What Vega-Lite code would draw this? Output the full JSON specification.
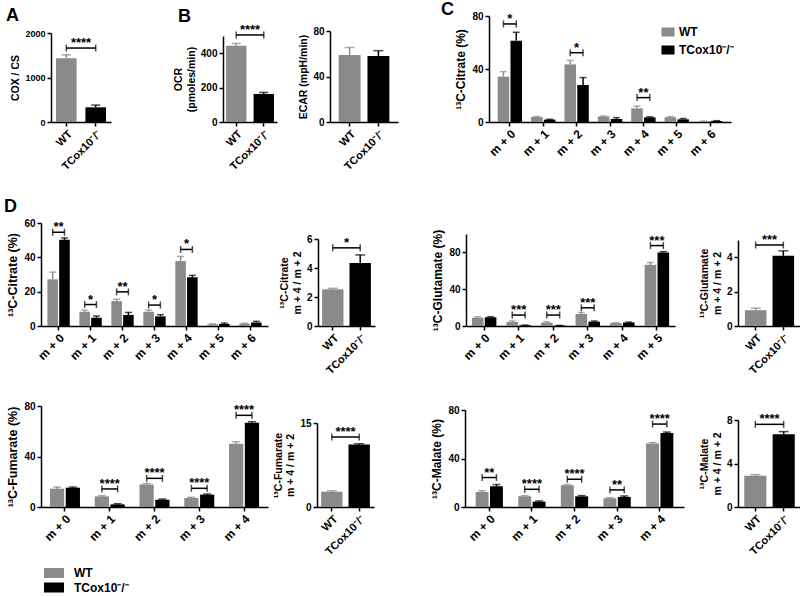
{
"$schema": "https://vega.github.io/schema/vega-lite/v6.json",
"padding": {"left": 4, "top": 0, "right": 0, "bottom": 0},
"spacing": 25,
"resolve": {"scale": {"color": "independent", "xOffset": "independent"}},
"config": {
  "view": {"stroke": null},
  "font": "Liberation Sans",
  "axis": {"domainColor": "#000", "domainWidth": 1.5, "tickColor": "#000", "tickWidth": 1.5, "tickSize": 4, "labelFont": "Liberation Sans", "labelFontWeight": "bold", "labelColor": "#000", "labelFontSize": 10, "titleFont": "Liberation Sans", "titleFontWeight": "bold", "titleColor": "#000", "titleFontSize": 10.5, "grid": false, "labelPadding": 2},
  "axisX": {"labelAngle": -45, "labelFontSize": 11},
  "title": {"font": "Liberation Sans", "fontSize": 18, "fontWeight": "bold", "color": "#000", "anchor": "start", "frame": "group", "offset": 0, "baseline": "alphabetic"},
  "text": {"font": "Liberation Sans"}
},
"datasets": {
  "a": [{"g": "WT", "v": 1435, "hi": 1510}, {"g": "TCox10⁻/⁻", "v": 330, "hi": 380}],
  "ab": [{"a": "WT", "b": "TCox10⁻/⁻", "y": 1662, "s": "****"}],
  "b1": [{"g": "WT", "v": 444, "hi": 457}, {"g": "TCox10⁻/⁻", "v": 163, "hi": 172}],
  "b1b": [{"a": "WT", "b": "TCox10⁻/⁻", "y": 506, "s": "****"}],
  "b2": [{"g": "WT", "v": 58.9, "hi": 65.6}, {"g": "TCox10⁻/⁻", "v": 58, "hi": 62.7}],
  "c": [
    {"m": "m + 0", "g": "WT", "v": 34.2, "hi": 38}, {"m": "m + 0", "g": "TCox10⁻/⁻", "v": 61.4, "hi": 67.7},
    {"m": "m + 1", "g": "WT", "v": 3.8, "hi": 4.2}, {"m": "m + 1", "g": "TCox10⁻/⁻", "v": 1.8, "hi": 2.0},
    {"m": "m + 2", "g": "WT", "v": 43.5, "hi": 46.5}, {"m": "m + 2", "g": "TCox10⁻/⁻", "v": 27.9, "hi": 33.5},
    {"m": "m + 3", "g": "WT", "v": 4.2, "hi": 4.5}, {"m": "m + 3", "g": "TCox10⁻/⁻", "v": 2.3, "hi": 3.3},
    {"m": "m + 4", "g": "WT", "v": 10.3, "hi": 12}, {"m": "m + 4", "g": "TCox10⁻/⁻", "v": 3.5, "hi": 3.9},
    {"m": "m + 5", "g": "WT", "v": 3.6, "hi": 4.0}, {"m": "m + 5", "g": "TCox10⁻/⁻", "v": 2.0, "hi": 2.6},
    {"m": "m + 6", "g": "WT", "v": 0.5, "hi": 0.7}, {"m": "m + 6", "g": "TCox10⁻/⁻", "v": 0.8, "hi": 1.0}
  ],
  "cb": [{"m": "m + 0", "y": 74, "s": "*"}, {"m": "m + 2", "y": 52.3, "s": "*"}, {"m": "m + 4", "y": 18.4, "s": "**"}],
  "d1": [
    {"m": "m + 0", "g": "WT", "v": 27.2, "hi": 31.4}, {"m": "m + 0", "g": "TCox10⁻/⁻", "v": 50.2, "hi": 51.3},
    {"m": "m + 1", "g": "WT", "v": 8.3, "hi": 9.3}, {"m": "m + 1", "g": "TCox10⁻/⁻", "v": 4.8, "hi": 5.8},
    {"m": "m + 2", "g": "WT", "v": 14.5, "hi": 15.6}, {"m": "m + 2", "g": "TCox10⁻/⁻", "v": 6.4, "hi": 7.9},
    {"m": "m + 3", "g": "WT", "v": 8.3, "hi": 9.3}, {"m": "m + 3", "g": "TCox10⁻/⁻", "v": 5.6, "hi": 6.6},
    {"m": "m + 4", "g": "WT", "v": 37.8, "hi": 40.5}, {"m": "m + 4", "g": "TCox10⁻/⁻", "v": 28.4, "hi": 29.5},
    {"m": "m + 5", "g": "WT", "v": 1.0, "hi": 1.3}, {"m": "m + 5", "g": "TCox10⁻/⁻", "v": 1.2, "hi": 1.7},
    {"m": "m + 6", "g": "WT", "v": 1.3, "hi": 1.6}, {"m": "m + 6", "g": "TCox10⁻/⁻", "v": 2.0, "hi": 2.7}
  ],
  "d1b": [{"m": "m + 0", "y": 54.6, "s": "**"}, {"m": "m + 1", "y": 12.5, "s": "*"}, {"m": "m + 2", "y": 19.9, "s": "**"}, {"m": "m + 3", "y": 12.2, "s": "*"}, {"m": "m + 4", "y": 44.6, "s": "*"}],
  "d1s": [{"g": "WT", "v": 2.53, "hi": 2.6}, {"g": "TCox10⁻/⁻", "v": 4.34, "hi": 4.9}],
  "d1sb": [{"a": "WT", "b": "TCox10⁻/⁻", "y": 5.39, "s": "*"}],
  "d2": [
    {"m": "m + 0", "g": "WT", "v": 9.0, "hi": 10}, {"m": "m + 0", "g": "TCox10⁻/⁻", "v": 9.5, "hi": 10},
    {"m": "m + 1", "g": "WT", "v": 4.3, "hi": 5.4}, {"m": "m + 1", "g": "TCox10⁻/⁻", "v": 0.8, "hi": 1.0},
    {"m": "m + 2", "g": "WT", "v": 3.6, "hi": 4.7}, {"m": "m + 2", "g": "TCox10⁻/⁻", "v": 0.5, "hi": 0.7},
    {"m": "m + 3", "g": "WT", "v": 13, "hi": 14.7}, {"m": "m + 3", "g": "TCox10⁻/⁻", "v": 4.7, "hi": 5.4},
    {"m": "m + 4", "g": "WT", "v": 3.2, "hi": 3.6}, {"m": "m + 4", "g": "TCox10⁻/⁻", "v": 3.8, "hi": 4.3},
    {"m": "m + 5", "g": "WT", "v": 66.5, "hi": 69}, {"m": "m + 5", "g": "TCox10⁻/⁻", "v": 79.9, "hi": 80.9}
  ],
  "d2b": [{"m": "m + 1", "y": 11.9, "s": "***"}, {"m": "m + 2", "y": 11.9, "s": "***"}, {"m": "m + 3", "y": 19.8, "s": "***"}, {"m": "m + 5", "y": 87.4, "s": "***"}],
  "d2s": [{"g": "WT", "v": 0.92, "hi": 1.04}, {"g": "TCox10⁻/⁻", "v": 4.08, "hi": 4.37}],
  "d2sb": [{"a": "WT", "b": "TCox10⁻/⁻", "y": 4.71, "s": "***"}],
  "d3": [
    {"m": "m + 0", "g": "WT", "v": 14.5, "hi": 15.8}, {"m": "m + 0", "g": "TCox10⁻/⁻", "v": 15.3, "hi": 15.8},
    {"m": "m + 1", "g": "WT", "v": 8.4, "hi": 9}, {"m": "m + 1", "g": "TCox10⁻/⁻", "v": 2.1, "hi": 2.6},
    {"m": "m + 2", "g": "WT", "v": 17.9, "hi": 18.7}, {"m": "m + 2", "g": "TCox10⁻/⁻", "v": 5.8, "hi": 6.3},
    {"m": "m + 3", "g": "WT", "v": 7.1, "hi": 7.7}, {"m": "m + 3", "g": "TCox10⁻/⁻", "v": 9.8, "hi": 10.3},
    {"m": "m + 4", "g": "WT", "v": 50.1, "hi": 51.7}, {"m": "m + 4", "g": "TCox10⁻/⁻", "v": 66.8, "hi": 67.6}
  ],
  "d3b": [{"m": "m + 1", "y": 14.3, "s": "****"}, {"m": "m + 2", "y": 22.7, "s": "****"}, {"m": "m + 3", "y": 14.8, "s": "****"}, {"m": "m + 4", "y": 72.6, "s": "****"}],
  "d3s": [{"g": "WT", "v": 2.73, "hi": 2.9}, {"g": "TCox10⁻/⁻", "v": 11.14, "hi": 11.3}],
  "d3sb": [{"a": "WT", "b": "TCox10⁻/⁻", "y": 12.5, "s": "****"}],
  "d4": [
    {"m": "m + 0", "g": "WT", "v": 12.4, "hi": 13.5}, {"m": "m + 0", "g": "TCox10⁻/⁻", "v": 17.1, "hi": 18.5},
    {"m": "m + 1", "g": "WT", "v": 8.8, "hi": 9.4}, {"m": "m + 1", "g": "TCox10⁻/⁻", "v": 4.4, "hi": 5},
    {"m": "m + 2", "g": "WT", "v": 17.9, "hi": 18.5}, {"m": "m + 2", "g": "TCox10⁻/⁻", "v": 8.8, "hi": 9.4},
    {"m": "m + 3", "g": "WT", "v": 7.2, "hi": 7.7}, {"m": "m + 3", "g": "TCox10⁻/⁻", "v": 8.3, "hi": 9.1},
    {"m": "m + 4", "g": "WT", "v": 52.4, "hi": 53.2}, {"m": "m + 4", "g": "TCox10⁻/⁻", "v": 61, "hi": 61.8}
  ],
  "d4b": [{"m": "m + 0", "y": 24.3, "s": "**"}, {"m": "m + 1", "y": 14.6, "s": "****"}, {"m": "m + 2", "y": 22.9, "s": "****"}, {"m": "m + 3", "y": 14.1, "s": "**"}, {"m": "m + 4", "y": 68.4, "s": "****"}],
  "d4s": [{"g": "WT", "v": 2.88, "hi": 2.98}, {"g": "TCox10⁻/⁻", "v": 6.69, "hi": 6.93}],
  "d4sb": [{"a": "WT", "b": "TCox10⁻/⁻", "y": 7.6, "s": "****"}],
  "none": []
},
"vconcat": [
 {"hconcat": [
  {"width": 10, "height": 106, "data": {"name": "none"}, "mark": "point"},
  {"width": 60, "height": 106, "title": {"text": "A", "dx": -45, "dy": 12.5},
   "layer": [
    {"data": {"name": "a"}, "mark": "bar", "encoding": {
      "x": {"field": "g", "type": "nominal", "scale": {"domain": ["WT", "TCox10⁻/⁻"], "paddingInner": 0.3, "paddingOuter": 0.17}, "axis": {"title": null}},
      "y": {"field": "v", "type": "quantitative", "scale": {"domain": [0, 2000], "range": [106, 17], "nice": false}, "axis": {"title": "COX / CS", "values": [0, 500, 1000, 1500, 2000], "format": "d", "labelFontSize": 9}},
      "color": {"field": "g", "type": "nominal", "scale": {"domain": ["WT", "TCox10⁻/⁻"], "range": ["#8a8a8a", "#000000"]}, "legend": null}}},
    {"data": {"name": "a"}, "mark": {"type": "rule", "strokeWidth": 1.5}, "encoding": {"x": {"field": "g", "type": "nominal"}, "y": {"field": "v", "type": "quantitative"}, "y2": {"field": "hi"}, "color": {"field": "g", "type": "nominal", "legend": null}}},
    {"data": {"name": "a"}, "mark": {"type": "tick", "thickness": 1.5, "size": 9}, "encoding": {"x": {"field": "g", "type": "nominal"}, "y": {"field": "hi", "type": "quantitative"}, "color": {"field": "g", "type": "nominal", "legend": null}}},
    {"data": {"name": "ab"}, "mark": {"type": "rule", "strokeWidth": 1.5, "color": "#000"}, "encoding": {"x": {"field": "a", "type": "nominal", "bandPosition": 0.5}, "x2": {"field": "b", "bandPosition": 0.5}, "y": {"field": "y", "type": "quantitative"}}},
    {"data": {"name": "ab"}, "mark": {"type": "tick", "orient": "vertical", "thickness": 1.5, "size": 7, "color": "#000"}, "encoding": {"x": {"field": "a", "type": "nominal"}, "y": {"field": "y", "type": "quantitative"}}},
    {"data": {"name": "ab"}, "mark": {"type": "tick", "orient": "vertical", "thickness": 1.5, "size": 7, "color": "#000"}, "encoding": {"x": {"field": "b", "type": "nominal"}, "y": {"field": "y", "type": "quantitative"}}},
    {"data": {"name": "ab"}, "mark": {"type": "text", "fontSize": 13, "fontWeight": "bold", "baseline": "alphabetic", "dy": -1, "color": "#000"}, "encoding": {"y": {"field": "y", "type": "quantitative"}, "text": {"field": "s"}}}
   ]},
  {"width": 112, "height": 106, "data": {"name": "none"}, "mark": "point"},
  {"width": 54, "height": 106, "title": {"text": "B", "dx": -45, "dy": 13.5},
   "layer": [
    {"data": {"name": "b1"}, "mark": "bar", "encoding": {
      "x": {"field": "g", "type": "nominal", "scale": {"domain": ["WT", "TCox10⁻/⁻"], "paddingInner": 0.26, "paddingOuter": 0.11}, "axis": {"title": null}},
      "y": {"field": "v", "type": "quantitative", "scale": {"domain": [0, 500], "range": [106, 20], "nice": false}, "axis": {"title": ["OCR", "(pmoles/min)"], "values": [0, 100, 200, 300, 400, 500], "format": "d"}},
      "color": {"field": "g", "type": "nominal", "scale": {"domain": ["WT", "TCox10⁻/⁻"], "range": ["#8a8a8a", "#000000"]}, "legend": null}}},
    {"data": {"name": "b1"}, "mark": {"type": "rule", "strokeWidth": 1.5}, "encoding": {"x": {"field": "g", "type": "nominal"}, "y": {"field": "v", "type": "quantitative"}, "y2": {"field": "hi"}, "color": {"field": "g", "type": "nominal", "legend": null}}},
    {"data": {"name": "b1"}, "mark": {"type": "tick", "thickness": 1.5, "size": 9}, "encoding": {"x": {"field": "g", "type": "nominal"}, "y": {"field": "hi", "type": "quantitative"}, "color": {"field": "g", "type": "nominal", "legend": null}}},
    {"data": {"name": "b1b"}, "mark": {"type": "rule", "strokeWidth": 1.5, "color": "#000"}, "encoding": {"x": {"field": "a", "type": "nominal", "bandPosition": 0.5}, "x2": {"field": "b", "bandPosition": 0.5}, "y": {"field": "y", "type": "quantitative"}}},
    {"data": {"name": "b1b"}, "mark": {"type": "tick", "orient": "vertical", "thickness": 1.5, "size": 7, "color": "#000"}, "encoding": {"x": {"field": "a", "type": "nominal"}, "y": {"field": "y", "type": "quantitative"}}},
    {"data": {"name": "b1b"}, "mark": {"type": "tick", "orient": "vertical", "thickness": 1.5, "size": 7, "color": "#000"}, "encoding": {"x": {"field": "b", "type": "nominal"}, "y": {"field": "y", "type": "quantitative"}}},
    {"data": {"name": "b1b"}, "mark": {"type": "text", "fontSize": 13, "fontWeight": "bold", "baseline": "alphabetic", "dy": -1, "color": "#000"}, "encoding": {"y": {"field": "y", "type": "quantitative"}, "text": {"field": "s"}}}
   ]},
  {"width": 53, "height": 106, "data": {"name": "none"}, "mark": "point"},
  {"width": 68, "height": 106,
   "layer": [
    {"data": {"name": "b2"}, "mark": "bar", "encoding": {
      "x": {"field": "g", "type": "nominal", "scale": {"domain": ["WT", "TCox10⁻/⁻"], "paddingInner": 0.24, "paddingOuter": 0.3}, "axis": {"title": null}},
      "y": {"field": "v", "type": "quantitative", "scale": {"domain": [0, 80], "range": [106, 15], "nice": false}, "axis": {"title": "ECAR (mpH/min)", "values": [0, 20, 40, 60, 80], "format": "d"}},
      "color": {"field": "g", "type": "nominal", "scale": {"domain": ["WT", "TCox10⁻/⁻"], "range": ["#8a8a8a", "#000000"]}, "legend": null}}},
    {"data": {"name": "b2"}, "mark": {"type": "rule", "strokeWidth": 1.5}, "encoding": {"x": {"field": "g", "type": "nominal"}, "y": {"field": "v", "type": "quantitative"}, "y2": {"field": "hi"}, "color": {"field": "g", "type": "nominal", "legend": null}}},
    {"data": {"name": "b2"}, "mark": {"type": "tick", "thickness": 1.5, "size": 10}, "encoding": {"x": {"field": "g", "type": "nominal"}, "y": {"field": "hi", "type": "quantitative"}, "color": {"field": "g", "type": "nominal", "legend": null}}}
   ]},
  {"width": 91, "height": 106, "data": {"name": "none"}, "mark": "point"},
  {"width": 242, "height": 106, "title": {"text": "C", "dx": -48, "dy": 11.5},
   "layer": [
    {"data": {"name": "c"}, "mark": "bar", "encoding": {
      "x": {"field": "m", "type": "nominal", "scale": {"domain": ["m + 0", "m + 1", "m + 2", "m + 3", "m + 4", "m + 5", "m + 6"], "paddingInner": 0.27, "paddingOuter": 0.26}, "axis": {"title": null, "labelFontSize": 12}},
      "xOffset": {"field": "g", "type": "nominal", "scale": {"domain": ["WT", "TCox10⁻/⁻"], "paddingInner": 0.1}},
      "y": {"field": "v", "type": "quantitative", "scale": {"domain": [0, 80], "range": [106, 0], "nice": false}, "axis": {"title": "¹³C-Citrate (%)", "values": [0, 20, 40, 60, 80], "format": "d", "titleFontSize": 12}},
      "color": {"field": "g", "type": "nominal", "scale": {"domain": ["WT", "TCox10⁻/⁻"], "range": ["#8a8a8a", "#000000"]},
        "legend": {"orient": "none", "legendX": 173, "legendY": 10, "title": null, "symbolType": "M-1.45,-1H1.45V1H-1.45Z", "symbolSize": 81, "symbolStrokeWidth": 0, "symbolOpacity": 1, "labelFont": "Liberation Sans", "labelFontSize": 12, "labelFontWeight": "bold", "labelColor": "#000", "labelOffset": 5, "rowPadding": 6,
          "encode": {"symbols": {"update": {"opacity": {"value": 1}, "fillOpacity": {"value": 1}}}}}}}},
    {"data": {"name": "c"}, "mark": {"type": "rule", "strokeWidth": 1.5}, "encoding": {"x": {"field": "m", "type": "nominal"}, "xOffset": {"field": "g", "type": "nominal"}, "y": {"field": "v", "type": "quantitative"}, "y2": {"field": "hi"}, "color": {"field": "g", "type": "nominal"}}},
    {"data": {"name": "c"}, "mark": {"type": "tick", "thickness": 1.5, "size": 7}, "encoding": {"x": {"field": "m", "type": "nominal"}, "xOffset": {"field": "g", "type": "nominal"}, "y": {"field": "hi", "type": "quantitative"}, "color": {"field": "g", "type": "nominal"}}},
    {"data": {"name": "cb"}, "mark": {"type": "rule", "strokeWidth": 1.5, "color": "#000"}, "encoding": {"x": {"field": "m", "type": "nominal", "bandPosition": 0.237}, "x2": {"field": "m", "bandPosition": 0.763}, "y": {"field": "y", "type": "quantitative"}}},
    {"data": {"name": "cb"}, "mark": {"type": "tick", "orient": "vertical", "thickness": 1.5, "size": 7, "color": "#000"}, "encoding": {"x": {"field": "m", "type": "nominal", "bandPosition": 0.237}, "y": {"field": "y", "type": "quantitative"}}},
    {"data": {"name": "cb"}, "mark": {"type": "tick", "orient": "vertical", "thickness": 1.5, "size": 7, "color": "#000"}, "encoding": {"x": {"field": "m", "type": "nominal", "bandPosition": 0.763}, "y": {"field": "y", "type": "quantitative"}}},
    {"data": {"name": "cb"}, "mark": {"type": "text", "fontSize": 13, "fontWeight": "bold", "baseline": "alphabetic", "dy": -1, "color": "#000"}, "encoding": {"x": {"field": "m", "type": "nominal"}, "y": {"field": "y", "type": "quantitative"}, "text": {"field": "s"}}}
   ]}
 ], "spacing": 0, "bounds": "flush", "resolve": {"scale": {"color": "independent", "xOffset": "independent"}}},
 {"vconcat": [
  {"hconcat": [
  {"width": 227, "height": 121, "title": {"text": "D", "dx": -37, "dy": 14.5},
   "layer": [
    {"data": {"name": "d1"}, "mark": "bar", "encoding": {
      "x": {"field": "m", "type": "nominal", "scale": {"domain": ["m + 0", "m + 1", "m + 2", "m + 3", "m + 4", "m + 5", "m + 6"], "paddingInner": 0.3, "paddingOuter": 0.2}, "axis": {"title": null, "labelFontSize": 12}},
      "xOffset": {"field": "g", "type": "nominal", "scale": {"domain": ["WT", "TCox10⁻/⁻"], "paddingInner": 0.1}},
      "y": {"field": "v", "type": "quantitative", "scale": {"domain": [0, 60], "range": [121, 18], "nice": false}, "axis": {"title": "¹³C-Citrate (%)", "values": [0, 20, 40, 60], "format": "d", "titleFontSize": 12.5}},
      "color": {"field": "g", "type": "nominal", "scale": {"domain": ["WT", "TCox10⁻/⁻"], "range": ["#8a8a8a", "#000000"]}, "legend": null}}},
    {"data": {"name": "d1"}, "mark": {"type": "rule", "strokeWidth": 1.5}, "encoding": {"x": {"field": "m", "type": "nominal"}, "xOffset": {"field": "g", "type": "nominal"}, "y": {"field": "v", "type": "quantitative"}, "y2": {"field": "hi"}, "color": {"field": "g", "type": "nominal"}}},
    {"data": {"name": "d1"}, "mark": {"type": "tick", "thickness": 1.5, "size": 7}, "encoding": {"x": {"field": "m", "type": "nominal"}, "xOffset": {"field": "g", "type": "nominal"}, "y": {"field": "hi", "type": "quantitative"}, "color": {"field": "g", "type": "nominal"}}},
    {"data": {"name": "d1b"}, "mark": {"type": "rule", "strokeWidth": 1.5, "color": "#000"}, "encoding": {"x": {"field": "m", "type": "nominal", "bandPosition": 0.237}, "x2": {"field": "m", "bandPosition": 0.763}, "y": {"field": "y", "type": "quantitative"}}},
    {"data": {"name": "d1b"}, "mark": {"type": "tick", "orient": "vertical", "thickness": 1.5, "size": 7, "color": "#000"}, "encoding": {"x": {"field": "m", "type": "nominal", "bandPosition": 0.237}, "y": {"field": "y", "type": "quantitative"}}},
    {"data": {"name": "d1b"}, "mark": {"type": "tick", "orient": "vertical", "thickness": 1.5, "size": 7, "color": "#000"}, "encoding": {"x": {"field": "m", "type": "nominal", "bandPosition": 0.763}, "y": {"field": "y", "type": "quantitative"}}},
    {"data": {"name": "d1b"}, "mark": {"type": "text", "fontSize": 13, "fontWeight": "bold", "baseline": "alphabetic", "dy": -1, "color": "#000"}, "encoding": {"x": {"field": "m", "type": "nominal"}, "y": {"field": "y", "type": "quantitative"}, "text": {"field": "s"}}}
   ]},
  {"width": 50, "height": 121, "data": {"name": "none"}, "mark": "point"},
  {"width": 57, "height": 121,
   "layer": [
    {"data": {"name": "d1s"}, "mark": "bar", "encoding": {
      "x": {"field": "g", "type": "nominal", "scale": {"domain": ["WT", "TCox10⁻/⁻"], "paddingInner": 0.22, "paddingOuter": 0.15}, "axis": {"title": null}},
      "y": {"field": "v", "type": "quantitative", "scale": {"domain": [0, 6], "range": [121, 34], "nice": false}, "axis": {"title": ["¹³C-Citrate", "m + 4 / m + 2"], "values": [0, 2, 4, 6], "format": "d"}},
      "color": {"field": "g", "type": "nominal", "scale": {"domain": ["WT", "TCox10⁻/⁻"], "range": ["#8a8a8a", "#000000"]}, "legend": null}}},
    {"data": {"name": "d1s"}, "mark": {"type": "rule", "strokeWidth": 1.5}, "encoding": {"x": {"field": "g", "type": "nominal"}, "y": {"field": "v", "type": "quantitative"}, "y2": {"field": "hi"}, "color": {"field": "g", "type": "nominal"}}},
    {"data": {"name": "d1s"}, "mark": {"type": "tick", "thickness": 1.5, "size": 10}, "encoding": {"x": {"field": "g", "type": "nominal"}, "y": {"field": "hi", "type": "quantitative"}, "color": {"field": "g", "type": "nominal"}}},
    {"data": {"name": "d1sb"}, "mark": {"type": "rule", "strokeWidth": 1.5, "color": "#000"}, "encoding": {"x": {"field": "a", "type": "nominal", "bandPosition": 0.5}, "x2": {"field": "b", "bandPosition": 0.5}, "y": {"field": "y", "type": "quantitative"}}},
    {"data": {"name": "d1sb"}, "mark": {"type": "tick", "orient": "vertical", "thickness": 1.5, "size": 7, "color": "#000"}, "encoding": {"x": {"field": "a", "type": "nominal"}, "y": {"field": "y", "type": "quantitative"}}},
    {"data": {"name": "d1sb"}, "mark": {"type": "tick", "orient": "vertical", "thickness": 1.5, "size": 7, "color": "#000"}, "encoding": {"x": {"field": "b", "type": "nominal"}, "y": {"field": "y", "type": "quantitative"}}},
    {"data": {"name": "d1sb"}, "mark": {"type": "text", "fontSize": 13, "fontWeight": "bold", "baseline": "alphabetic", "dy": -1, "color": "#000"}, "encoding": {"y": {"field": "y", "type": "quantitative"}, "text": {"field": "s"}}}
   ]},
  {"width": 91, "height": 121, "data": {"name": "none"}, "mark": "point"},
  {"width": 209, "height": 121,
   "layer": [
    {"data": {"name": "d2"}, "mark": "bar", "encoding": {
      "x": {"field": "m", "type": "nominal", "scale": {"domain": ["m + 0", "m + 1", "m + 2", "m + 3", "m + 4", "m + 5"], "paddingInner": 0.29, "paddingOuter": 0.17}, "axis": {"title": null, "labelFontSize": 12}},
      "xOffset": {"field": "g", "type": "nominal", "scale": {"domain": ["WT", "TCox10⁻/⁻"], "paddingInner": 0.1}},
      "y": {"field": "v", "type": "quantitative", "scale": {"domain": [0, 100], "range": [121, 29], "nice": false}, "axis": {"title": "¹³C-Glutamate (%)", "values": [0, 20, 40, 60, 80, 100], "format": "d", "titleFontSize": 12}},
      "color": {"field": "g", "type": "nominal", "scale": {"domain": ["WT", "TCox10⁻/⁻"], "range": ["#8a8a8a", "#000000"]}, "legend": null}}},
    {"data": {"name": "d2"}, "mark": {"type": "rule", "strokeWidth": 1.5}, "encoding": {"x": {"field": "m", "type": "nominal"}, "xOffset": {"field": "g", "type": "nominal"}, "y": {"field": "v", "type": "quantitative"}, "y2": {"field": "hi"}, "color": {"field": "g", "type": "nominal"}}},
    {"data": {"name": "d2"}, "mark": {"type": "tick", "thickness": 1.5, "size": 7}, "encoding": {"x": {"field": "m", "type": "nominal"}, "xOffset": {"field": "g", "type": "nominal"}, "y": {"field": "hi", "type": "quantitative"}, "color": {"field": "g", "type": "nominal"}}},
    {"data": {"name": "d2b"}, "mark": {"type": "rule", "strokeWidth": 1.5, "color": "#000"}, "encoding": {"x": {"field": "m", "type": "nominal", "bandPosition": 0.237}, "x2": {"field": "m", "bandPosition": 0.763}, "y": {"field": "y", "type": "quantitative"}}},
    {"data": {"name": "d2b"}, "mark": {"type": "tick", "orient": "vertical", "thickness": 1.5, "size": 7, "color": "#000"}, "encoding": {"x": {"field": "m", "type": "nominal", "bandPosition": 0.237}, "y": {"field": "y", "type": "quantitative"}}},
    {"data": {"name": "d2b"}, "mark": {"type": "tick", "orient": "vertical", "thickness": 1.5, "size": 7, "color": "#000"}, "encoding": {"x": {"field": "m", "type": "nominal", "bandPosition": 0.763}, "y": {"field": "y", "type": "quantitative"}}},
    {"data": {"name": "d2b"}, "mark": {"type": "text", "fontSize": 13, "fontWeight": "bold", "baseline": "alphabetic", "dy": -1, "color": "#000"}, "encoding": {"x": {"field": "m", "type": "nominal"}, "y": {"field": "y", "type": "quantitative"}, "text": {"field": "s"}}}
   ]},
  {"width": 63, "height": 121, "data": {"name": "none"}, "mark": "point"},
  {"width": 63, "height": 121,
   "layer": [
    {"data": {"name": "d2s"}, "mark": "bar", "encoding": {
      "x": {"field": "g", "type": "nominal", "scale": {"domain": ["WT", "TCox10⁻/⁻"], "paddingInner": 0.22, "paddingOuter": 0.25}, "axis": {"title": null}},
      "y": {"field": "v", "type": "quantitative", "scale": {"domain": [0, 5], "range": [121, 35], "nice": false}, "axis": {"title": ["¹³C-Glutamate", "m + 4 / m + 2"], "values": [0, 1, 2, 3, 4, 5], "format": "d"}},
      "color": {"field": "g", "type": "nominal", "scale": {"domain": ["WT", "TCox10⁻/⁻"], "range": ["#8a8a8a", "#000000"]}, "legend": null}}},
    {"data": {"name": "d2s"}, "mark": {"type": "rule", "strokeWidth": 1.5}, "encoding": {"x": {"field": "g", "type": "nominal"}, "y": {"field": "v", "type": "quantitative"}, "y2": {"field": "hi"}, "color": {"field": "g", "type": "nominal"}}},
    {"data": {"name": "d2s"}, "mark": {"type": "tick", "thickness": 1.5, "size": 10}, "encoding": {"x": {"field": "g", "type": "nominal"}, "y": {"field": "hi", "type": "quantitative"}, "color": {"field": "g", "type": "nominal"}}},
    {"data": {"name": "d2sb"}, "mark": {"type": "rule", "strokeWidth": 1.5, "color": "#000"}, "encoding": {"x": {"field": "a", "type": "nominal", "bandPosition": 0.5}, "x2": {"field": "b", "bandPosition": 0.5}, "y": {"field": "y", "type": "quantitative"}}},
    {"data": {"name": "d2sb"}, "mark": {"type": "tick", "orient": "vertical", "thickness": 1.5, "size": 7, "color": "#000"}, "encoding": {"x": {"field": "a", "type": "nominal"}, "y": {"field": "y", "type": "quantitative"}}},
    {"data": {"name": "d2sb"}, "mark": {"type": "tick", "orient": "vertical", "thickness": 1.5, "size": 7, "color": "#000"}, "encoding": {"x": {"field": "b", "type": "nominal"}, "y": {"field": "y", "type": "quantitative"}}},
    {"data": {"name": "d2sb"}, "mark": {"type": "text", "fontSize": 13, "fontWeight": "bold", "baseline": "alphabetic", "dy": -1, "color": "#000"}, "encoding": {"y": {"field": "y", "type": "quantitative"}, "text": {"field": "s"}}}
   ]}
  ], "spacing": 0, "bounds": "flush", "resolve": {"scale": {"color": "independent", "xOffset": "independent"}}},
  {"hconcat": [
  {"width": 227, "height": 101,
   "layer": [
    {"data": {"name": "d3"}, "mark": "bar", "encoding": {
      "x": {"field": "m", "type": "nominal", "scale": {"domain": ["m + 0", "m + 1", "m + 2", "m + 3", "m + 4"], "paddingInner": 0.33, "paddingOuter": 0.2}, "axis": {"title": null, "labelFontSize": 12}},
      "xOffset": {"field": "g", "type": "nominal", "scale": {"domain": ["WT", "TCox10⁻/⁻"], "paddingInner": 0.1}},
      "y": {"field": "v", "type": "quantitative", "scale": {"domain": [0, 80], "range": [101, 0], "nice": false}, "axis": {"title": "¹³C-Fumarate (%)", "values": [0, 20, 40, 60, 80], "format": "d", "titleFontSize": 12.5}},
      "color": {"field": "g", "type": "nominal", "scale": {"domain": ["WT", "TCox10⁻/⁻"], "range": ["#8a8a8a", "#000000"]},
        "legend": {"orient": "none", "legendX": 7, "legendY": 161, "title": null, "symbolType": "M-2,-1H2V1H-2Z", "symbolSize": 100, "symbolStrokeWidth": 0, "symbolOpacity": 1, "labelFont": "Liberation Sans", "labelFontSize": 12, "labelFontWeight": "bold", "labelColor": "#000", "labelOffset": 14, "rowPadding": 2.5,
          "encode": {"symbols": {"update": {"opacity": {"value": 1}, "fillOpacity": {"value": 1}}}}}}}},
    {"data": {"name": "d3"}, "mark": {"type": "rule", "strokeWidth": 1.5}, "encoding": {"x": {"field": "m", "type": "nominal"}, "xOffset": {"field": "g", "type": "nominal"}, "y": {"field": "v", "type": "quantitative"}, "y2": {"field": "hi"}, "color": {"field": "g", "type": "nominal"}}},
    {"data": {"name": "d3"}, "mark": {"type": "tick", "thickness": 1.5, "size": 8}, "encoding": {"x": {"field": "m", "type": "nominal"}, "xOffset": {"field": "g", "type": "nominal"}, "y": {"field": "hi", "type": "quantitative"}, "color": {"field": "g", "type": "nominal"}}},
    {"data": {"name": "d3b"}, "mark": {"type": "rule", "strokeWidth": 1.5, "color": "#000"}, "encoding": {"x": {"field": "m", "type": "nominal", "bandPosition": 0.237}, "x2": {"field": "m", "bandPosition": 0.763}, "y": {"field": "y", "type": "quantitative"}}},
    {"data": {"name": "d3b"}, "mark": {"type": "tick", "orient": "vertical", "thickness": 1.5, "size": 7, "color": "#000"}, "encoding": {"x": {"field": "m", "type": "nominal", "bandPosition": 0.237}, "y": {"field": "y", "type": "quantitative"}}},
    {"data": {"name": "d3b"}, "mark": {"type": "tick", "orient": "vertical", "thickness": 1.5, "size": 7, "color": "#000"}, "encoding": {"x": {"field": "m", "type": "nominal", "bandPosition": 0.763}, "y": {"field": "y", "type": "quantitative"}}},
    {"data": {"name": "d3b"}, "mark": {"type": "text", "fontSize": 13, "fontWeight": "bold", "baseline": "alphabetic", "dy": -1, "color": "#000"}, "encoding": {"x": {"field": "m", "type": "nominal"}, "y": {"field": "y", "type": "quantitative"}, "text": {"field": "s"}}}
   ]},
  {"width": 49, "height": 101, "data": {"name": "none"}, "mark": "point"},
  {"width": 57, "height": 101,
   "layer": [
    {"data": {"name": "d3s"}, "mark": "bar", "encoding": {
      "x": {"field": "g", "type": "nominal", "scale": {"domain": ["WT", "TCox10⁻/⁻"], "paddingInner": 0.22, "paddingOuter": 0.15}, "axis": {"title": null}},
      "y": {"field": "v", "type": "quantitative", "scale": {"domain": [0, 15], "range": [101, 17], "nice": false}, "axis": {"title": ["¹³C-Fumarate", "m + 4 / m + 2"], "values": [0, 5, 10, 15], "format": "d"}},
      "color": {"field": "g", "type": "nominal", "scale": {"domain": ["WT", "TCox10⁻/⁻"], "range": ["#8a8a8a", "#000000"]}, "legend": null}}},
    {"data": {"name": "d3s"}, "mark": {"type": "rule", "strokeWidth": 1.5}, "encoding": {"x": {"field": "g", "type": "nominal"}, "y": {"field": "v", "type": "quantitative"}, "y2": {"field": "hi"}, "color": {"field": "g", "type": "nominal"}}},
    {"data": {"name": "d3s"}, "mark": {"type": "tick", "thickness": 1.5, "size": 10}, "encoding": {"x": {"field": "g", "type": "nominal"}, "y": {"field": "hi", "type": "quantitative"}, "color": {"field": "g", "type": "nominal"}}},
    {"data": {"name": "d3sb"}, "mark": {"type": "rule", "strokeWidth": 1.5, "color": "#000"}, "encoding": {"x": {"field": "a", "type": "nominal", "bandPosition": 0.5}, "x2": {"field": "b", "bandPosition": 0.5}, "y": {"field": "y", "type": "quantitative"}}},
    {"data": {"name": "d3sb"}, "mark": {"type": "tick", "orient": "vertical", "thickness": 1.5, "size": 7, "color": "#000"}, "encoding": {"x": {"field": "a", "type": "nominal"}, "y": {"field": "y", "type": "quantitative"}}},
    {"data": {"name": "d3sb"}, "mark": {"type": "tick", "orient": "vertical", "thickness": 1.5, "size": 7, "color": "#000"}, "encoding": {"x": {"field": "b", "type": "nominal"}, "y": {"field": "y", "type": "quantitative"}}},
    {"data": {"name": "d3sb"}, "mark": {"type": "text", "fontSize": 13, "fontWeight": "bold", "baseline": "alphabetic", "dy": -1, "color": "#000"}, "encoding": {"y": {"field": "y", "type": "quantitative"}, "text": {"field": "s"}}}
   ]},
  {"width": 91, "height": 101, "data": {"name": "none"}, "mark": "point"},
  {"width": 219, "height": 101,
   "layer": [
    {"data": {"name": "d4"}, "mark": "bar", "encoding": {
      "x": {"field": "m", "type": "nominal", "scale": {"domain": ["m + 0", "m + 1", "m + 2", "m + 3", "m + 4"], "paddingInner": 0.36, "paddingOuter": 0.25}, "axis": {"title": null, "labelFontSize": 12}},
      "xOffset": {"field": "g", "type": "nominal", "scale": {"domain": ["WT", "TCox10⁻/⁻"], "paddingInner": 0.1}},
      "y": {"field": "v", "type": "quantitative", "scale": {"domain": [0, 80], "range": [101, 4], "nice": false}, "axis": {"title": "¹³C-Malate (%)", "values": [0, 20, 40, 60, 80], "format": "d", "titleFontSize": 12}},
      "color": {"field": "g", "type": "nominal", "scale": {"domain": ["WT", "TCox10⁻/⁻"], "range": ["#8a8a8a", "#000000"]}, "legend": null}}},
    {"data": {"name": "d4"}, "mark": {"type": "rule", "strokeWidth": 1.5}, "encoding": {"x": {"field": "m", "type": "nominal"}, "xOffset": {"field": "g", "type": "nominal"}, "y": {"field": "v", "type": "quantitative"}, "y2": {"field": "hi"}, "color": {"field": "g", "type": "nominal"}}},
    {"data": {"name": "d4"}, "mark": {"type": "tick", "thickness": 1.5, "size": 8}, "encoding": {"x": {"field": "m", "type": "nominal"}, "xOffset": {"field": "g", "type": "nominal"}, "y": {"field": "hi", "type": "quantitative"}, "color": {"field": "g", "type": "nominal"}}},
    {"data": {"name": "d4b"}, "mark": {"type": "rule", "strokeWidth": 1.5, "color": "#000"}, "encoding": {"x": {"field": "m", "type": "nominal", "bandPosition": 0.237}, "x2": {"field": "m", "bandPosition": 0.763}, "y": {"field": "y", "type": "quantitative"}}},
    {"data": {"name": "d4b"}, "mark": {"type": "tick", "orient": "vertical", "thickness": 1.5, "size": 7, "color": "#000"}, "encoding": {"x": {"field": "m", "type": "nominal", "bandPosition": 0.237}, "y": {"field": "y", "type": "quantitative"}}},
    {"data": {"name": "d4b"}, "mark": {"type": "tick", "orient": "vertical", "thickness": 1.5, "size": 7, "color": "#000"}, "encoding": {"x": {"field": "m", "type": "nominal", "bandPosition": 0.763}, "y": {"field": "y", "type": "quantitative"}}},
    {"data": {"name": "d4b"}, "mark": {"type": "text", "fontSize": 13, "fontWeight": "bold", "baseline": "alphabetic", "dy": -1, "color": "#000"}, "encoding": {"x": {"field": "m", "type": "nominal"}, "y": {"field": "y", "type": "quantitative"}, "text": {"field": "s"}}}
   ]},
  {"width": 54, "height": 101, "data": {"name": "none"}, "mark": "point"},
  {"width": 63, "height": 101,
   "layer": [
    {"data": {"name": "d4s"}, "mark": "bar", "encoding": {
      "x": {"field": "g", "type": "nominal", "scale": {"domain": ["WT", "TCox10⁻/⁻"], "paddingInner": 0.22, "paddingOuter": 0.22}, "axis": {"title": null}},
      "y": {"field": "v", "type": "quantitative", "scale": {"domain": [0, 8], "range": [101, 14], "nice": false}, "axis": {"title": ["¹³C-Malate", "m + 4 / m + 2"], "values": [0, 2, 4, 6, 8], "format": "d"}},
      "color": {"field": "g", "type": "nominal", "scale": {"domain": ["WT", "TCox10⁻/⁻"], "range": ["#8a8a8a", "#000000"]}, "legend": null}}},
    {"data": {"name": "d4s"}, "mark": {"type": "rule", "strokeWidth": 1.5}, "encoding": {"x": {"field": "g", "type": "nominal"}, "y": {"field": "v", "type": "quantitative"}, "y2": {"field": "hi"}, "color": {"field": "g", "type": "nominal"}}},
    {"data": {"name": "d4s"}, "mark": {"type": "tick", "thickness": 1.5, "size": 10}, "encoding": {"x": {"field": "g", "type": "nominal"}, "y": {"field": "hi", "type": "quantitative"}, "color": {"field": "g", "type": "nominal"}}},
    {"data": {"name": "d4sb"}, "mark": {"type": "rule", "strokeWidth": 1.5, "color": "#000"}, "encoding": {"x": {"field": "a", "type": "nominal", "bandPosition": 0.5}, "x2": {"field": "b", "bandPosition": 0.5}, "y": {"field": "y", "type": "quantitative"}}},
    {"data": {"name": "d4sb"}, "mark": {"type": "tick", "orient": "vertical", "thickness": 1.5, "size": 7, "color": "#000"}, "encoding": {"x": {"field": "a", "type": "nominal"}, "y": {"field": "y", "type": "quantitative"}}},
    {"data": {"name": "d4sb"}, "mark": {"type": "tick", "orient": "vertical", "thickness": 1.5, "size": 7, "color": "#000"}, "encoding": {"x": {"field": "b", "type": "nominal"}, "y": {"field": "y", "type": "quantitative"}}},
    {"data": {"name": "d4sb"}, "mark": {"type": "text", "fontSize": 13, "fontWeight": "bold", "baseline": "alphabetic", "dy": -1, "color": "#000"}, "encoding": {"y": {"field": "y", "type": "quantitative"}, "text": {"field": "s"}}}
   ]}
  ], "spacing": 0, "bounds": "flush", "resolve": {"scale": {"color": "independent", "xOffset": "independent"}}}
 ], "spacing": 25, "resolve": {"scale": {"color": "independent", "xOffset": "independent"}}}
]
}
